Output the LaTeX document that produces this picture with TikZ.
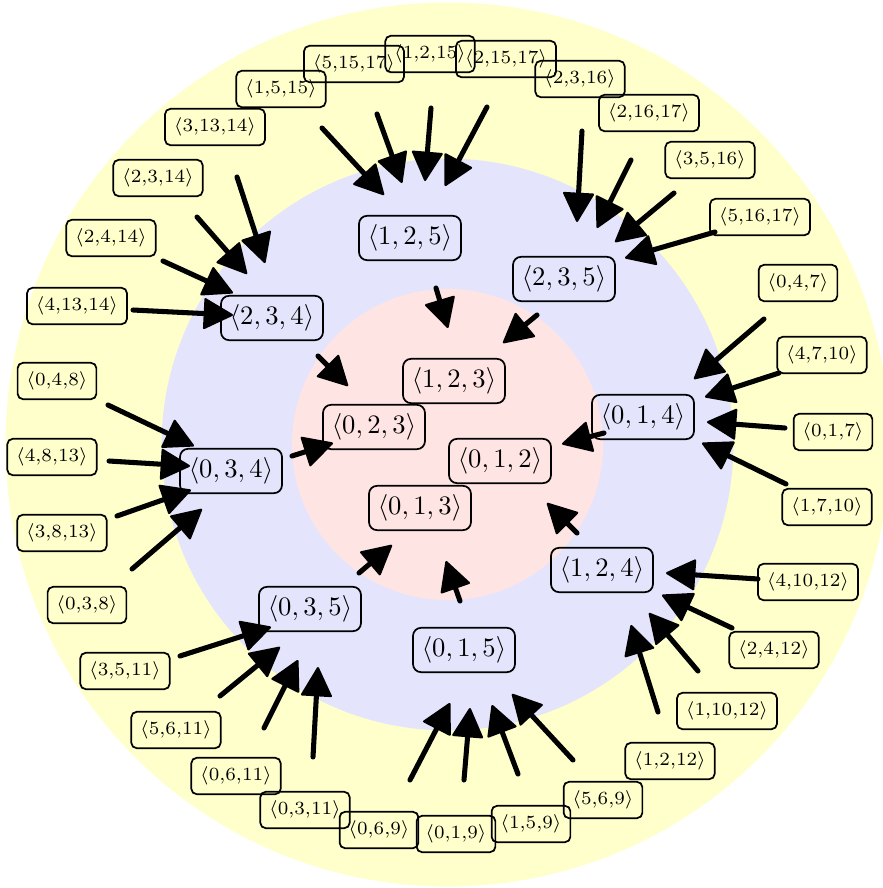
\documentclass[tikz,border=0pt]{standalone}
\usetikzlibrary{arrows.meta}
\definecolor{ringY}{RGB}{255,255,204}
\definecolor{ringB}{RGB}{228,228,252}
\definecolor{ringP}{RGB}{255,228,228}
\newcommand{\lrt}[1]{$\langle$#1$\rangle$}
\begin{document}
\begin{tikzpicture}[x=0.376pt,y=-0.376pt,
  innerbox/.style={draw,line width=0.65pt,rounded corners=3pt,inner sep=3.33pt,font=\normalsize},
  outerbox/.style={draw,line width=0.65pt,rounded corners=2pt,inner sep=3.33pt,font=\scriptsize},
  arr/.style={line width=1.9pt,line cap=round,
    -{Triangle[length=11.5pt,width=12pt,line width=0.8pt,round]}}]
\useasboundingbox (0,0) rectangle (883,888);
\coordinate (ctr) at (447.5,444.5);
\fill[ringY] (ctr) circle[radius=166.2pt];
\fill[ringB] (ctr) circle[radius=107.5pt];
\fill[ringP] (ctr) circle[radius=58.5pt];
% inner nodes
\node[innerbox] (n123) at (454,381) {$\langle 1,2,3\rangle$};
\node[innerbox] (n023) at (374,427) {$\langle 0,2,3\rangle$};
\node[innerbox] (n012) at (500,461) {$\langle 0,1,2\rangle$};
\node[innerbox] (n013) at (420,508) {$\langle 0,1,3\rangle$};
% middle nodes
\node[innerbox] (n125) at (410,238) {$\langle 1,2,5\rangle$};
\node[innerbox] (n235) at (564,279) {$\langle 2,3,5\rangle$};
\node[innerbox] (n234) at (272,318) {$\langle 2,3,4\rangle$};
\node[innerbox] (n034) at (231,471) {$\langle 0,3,4\rangle$};
\node[innerbox] (n014) at (643,417) {$\langle 0,1,4\rangle$};
\node[innerbox] (n124) at (602,570) {$\langle 1,2,4\rangle$};
\node[innerbox] (n035) at (310,609) {$\langle 0,3,5\rangle$};
\node[innerbox] (n015) at (464,650) {$\langle 0,1,5\rangle$};
% outer nodes
\foreach \nm/\px/\py/\tx in {
  o51517/354/64/{5,15,17}, o1215/430/54/{1,2,15}, o21517/506/59/{2,15,17},
  o2316/580/79/{2,3,16}, o1515/281/89/{1,5,15}, o31314/215/127/{3,13,14},
  o2314/158/178/{2,3,14}, o2414/111/238/{2,4,14}, o41314/77/306/{4,13,14},
  o048/57/381/{0,4,8}, o4813/52/457/{4,8,13}, o3813/62/533/{3,8,13},
  o038/87/605/{0,3,8}, o3511/125/671/{3,5,11}, o5611/176/730/{5,6,11},
  o0611/236/776/{0,6,11}, o0311/305/810/{0,3,11}, o069/379/830/{0,6,9},
  o019/456/834/{0,1,9}, o159/531/824/{1,5,9}, o569/603/800/{5,6,9},
  o1212/670/761/{1,2,12}, o11012/727/711/{1,10,12}, o2412/774/650/{2,4,12},
  o41012/808/582/{4,10,12}, o1710/827/507/{1,7,10}, o017/833/432/{0,1,7},
  o4710/822/355/{4,7,10}, o047/798/283/{0,4,7}, o51617/760/217/{5,16,17},
  o3516/710/160/{3,5,16}, o21617/649/113/{2,16,17}}
  {\node[outerbox] (\nm) at (\px,\py) {\lrt{\tx}};}
% arrows
\foreach \i/\ax/\ay/\bx/\by in {
  a1/322/128/384/195, a2/377/114/402/183, a3/431/108/425/181, a4/487/107/445/186,
  b1/582/131/577/222, b2/631/160/597/228, b3/674/193/615/242, b4/715/232/625/258,
  c1/237/177/265/263, c2/197/217/247/274, c3/163/261/233/293, c4/133/310/233/315,
  d1/108/405/194/446, d2/109/461/190/466, d3/117/516/191/490, d4/132/569/202/509,
  e1/180/656/271/627, e2/220/696/280/647, e3/264/728/298/660, e4/313/757/318/667,
  f1/410/780/450/703, f2/464/780/470/708, f3/518/774/492/705, f4/573/760/512/694,
  g1/658/712/631/625, g2/698/671/649/613, g3/732/628/662/595, g4/758/579/666/573,
  h1/764/319/694/379, h2/779/373/705/397, h3/785/428/707/422, h4/786/484/702/443,
  i1/436/288/448/328, i2/537/315/503/343, i3/318/356/348/386, i4/292/456/333/443,
  i5/604/433/562/444, i6/577/533/547/503, i7/460/601/446/561, i8/359/573/392/545}
  {\coordinate (t\i) at (\ax,\ay);
   \coordinate (h\i) at (\bx,\by);
   \draw[arr] (t\i) -- (h\i);}
\end{tikzpicture}
\end{document}
